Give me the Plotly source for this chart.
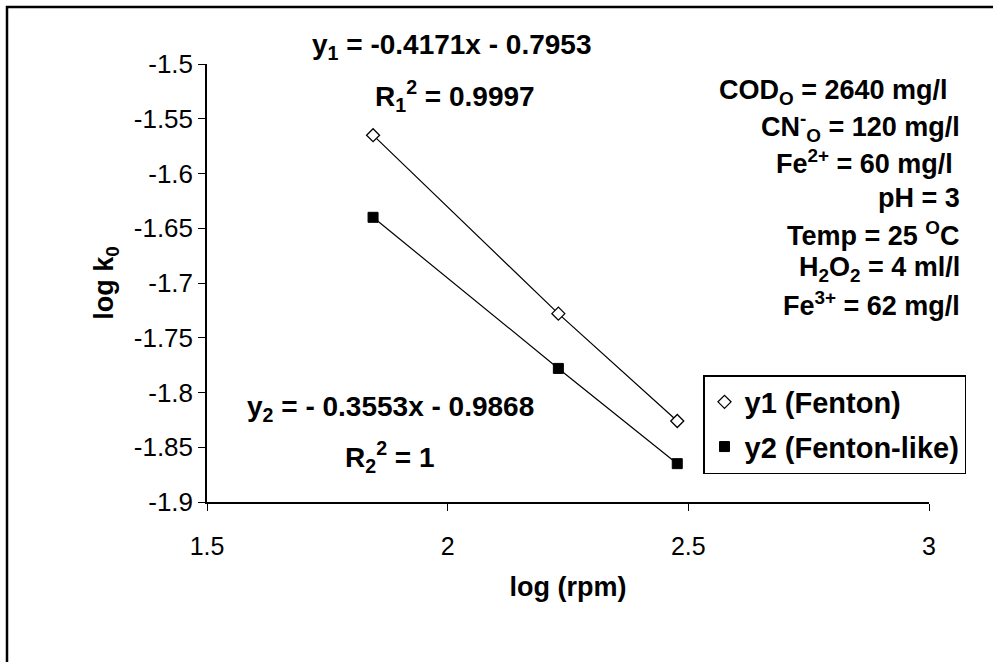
import plotly.graph_objects as go

# ---- data ----
log_rpm = [1.845, 2.230, 2.477]
y1_fenton = [-1.565, -1.728, -1.826]
y2_fenton_like = [-1.640, -1.778, -1.865]

x_ticks = [1.5, 2.0, 2.5, 3.0]
x_tick_labels = ["1.5", "2", "2.5", "3"]
y_ticks = [-1.9, -1.85, -1.8, -1.75, -1.7, -1.65, -1.6, -1.55, -1.5]
y_tick_labels = ["-1.9", "-1.85", "-1.8", "-1.75", "-1.7", "-1.65", "-1.6", "-1.55", "-1.5"]

W, H = 993, 662
L, R, T, B = 207, 64, 64, 160
PW, PH = W - L - R, H - T - B

def px(xp):
    return (xp - L) / PW

def py(yp):
    return (H - B - yp) / PH

FONT = "Arial, Liberation Sans, sans-serif"

fig = go.Figure()

# trend lines (no legend)
fig.add_trace(go.Scatter(x=log_rpm, y=y1_fenton, mode="lines",
                         line=dict(color="black", width=1.2), showlegend=False, hoverinfo="skip"))
fig.add_trace(go.Scatter(x=log_rpm, y=y2_fenton_like, mode="lines",
                         line=dict(color="black", width=1.2), showlegend=False, hoverinfo="skip"))
# markers
fig.add_trace(go.Scatter(x=log_rpm, y=y1_fenton, mode="markers", name="y1 (Fenton)",
                         legendgroup="a",
                         marker=dict(symbol="diamond", size=10, color="white",
                                     line=dict(color="black", width=1.3))))
fig.add_trace(go.Scatter(x=log_rpm, y=y2_fenton_like, mode="markers", name="y2 (Fenton-like)",
                         legendgroup="b",
                         marker=dict(symbol="square", size=10, color="black",
                                     line=dict(color="black", width=1))))

ann_font = dict(family=FONT, size=28, color="black")
cond_font = dict(family=FONT, size=27, color="black")

annotations = [
    dict(text="<b>y<sub>1</sub> = -0.4171x - 0.7953</b>", x=px(451), y=py(46)),
    dict(text="<b>R<sub>1</sub><sup>2</sup> = 0.9997</b>", x=px(455), y=py(96)),
    dict(text="<b>y<sub>2</sub> = - 0.3553x - 0.9868</b>", x=px(390), y=py(408)),
    dict(text="<b>R<sub>2</sub><sup>2</sup> = 1</b>", x=px(390), y=py(457)),
]
for a in annotations:
    fig.add_annotation(xref="paper", yref="paper", xanchor="center", yanchor="middle",
                       showarrow=False, font=ann_font, **a)

cond_lines = [
    ("<b>COD<sub>O</sub> = 2640 mg/l</b>", 950, 92),
    ("<b>CN<sup>-</sup><sub>O</sub> = 120 mg/l</b>", 962, 127),
    ("<b>Fe<sup>2+</sup> = 60 mg/l</b>", 955, 162),
    ("<b>pH = 3</b>", 962, 198),
    ("<b>Temp = 25 <sup>O</sup>C</b>", 962, 234),
    ("<b>H<sub>2</sub>O<sub>2</sub> = 4 ml/l</b>", 962, 269),
    ("<b>Fe<sup>3+</sup> = 62 mg/l</b>", 962, 304),
]
for txt, xr, yc in cond_lines:
    fig.add_annotation(xref="paper", yref="paper", x=px(xr), y=py(yc),
                       xanchor="right", yanchor="middle", showarrow=False,
                       text=txt, font=cond_font)

# outer frame (left and top edges visible)
fig.add_shape(type="rect", xref="paper", yref="paper",
              x0=px(7), x1=px(1010), y0=py(690), y1=py(7),
              line=dict(color="black", width=2.5), layer="above")

fig.update_layout(
    width=W, height=H,
    margin=dict(l=L, r=R, t=T, b=B, pad=0),
    paper_bgcolor="white", plot_bgcolor="white",
    font=dict(family=FONT, color="black"),
    showlegend=True,
    legend=dict(x=px(703), y=py(375), xanchor="left", yanchor="top",
                bordercolor="black", borderwidth=1.5, bgcolor="white",
                font=dict(family=FONT, size=29, color="black", weight="bold"),
                traceorder="grouped", tracegroupgap=4, entrywidth=255),
    xaxis=dict(range=[1.5, 3.0], tickvals=x_ticks, ticktext=x_tick_labels,
               showgrid=False, zeroline=False, showline=True, linecolor="black", linewidth=1.5,
               ticks="outside", ticklen=7, tickwidth=1.2, tickcolor="black",
               tickfont=dict(family=FONT, size=25), ticklabelstandoff=14,
               title=dict(text="<b>log (rpm)</b>", font=dict(family=FONT, size=27), standoff=18)),
    yaxis=dict(range=[-1.9, -1.5], tickvals=y_ticks, ticktext=y_tick_labels,
               showgrid=False, zeroline=False, showline=True, linecolor="black", linewidth=1.5,
               ticks="outside", ticklen=7, tickwidth=1.2, tickcolor="black",
               tickfont=dict(family=FONT, size=26), ticklabelstandoff=0,
               title=dict(text="<b>log k<sub>0</sub></b>", font=dict(family=FONT, size=27), standoff=12)),
)

fig.write_html("out.html")
